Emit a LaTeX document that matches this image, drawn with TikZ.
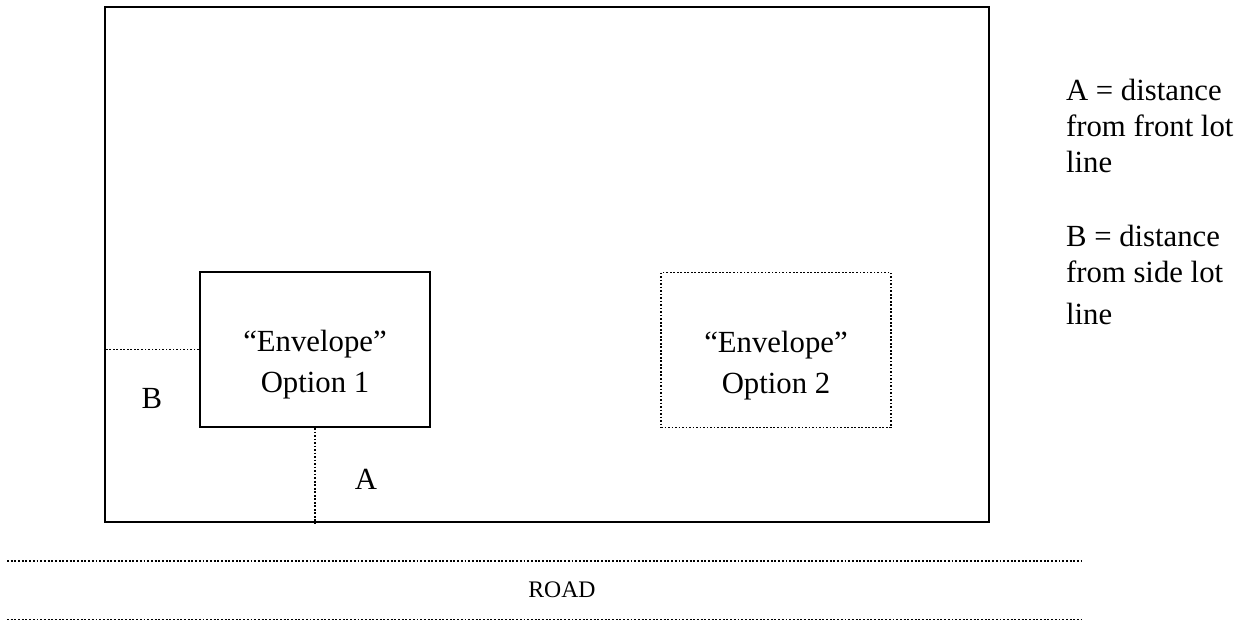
\documentclass[tikz,border=0pt]{standalone}
\usepackage{fontspec}
\setmainfont{Liberation Serif}
\usetikzlibrary{positioning}

\begin{document}
\begin{tikzpicture}[%
    x=0.02cm, y=-0.02cm,        % Work in pixels of the sketch, y going down
    line width=1.2pt,           % Heavy outlines
    font=\fontsize{17.5}{20}\selectfont,
    ]
% -------------------------------------------------
% A few styles
\tikzset{
  lotbox/.style={draw, rectangle, minimum width=17.68cm, minimum height=10.3cm},
  envbox/.style={draw, rectangle, minimum width=4.6cm, minimum height=3.1cm},
  envtext/.style={anchor=base, align=center, inner sep=0pt,
    font=\fontsize{17.5}{23.2}\selectfont},
  maybe/.style={densely dotted, line width=1pt},
  % Dimension lines and notes
  dim/.style={draw, densely dotted, line width=1pt},
  note/.style={anchor=base west, align=left, inner sep=0pt,
    font=\fontsize{17.5}{20.6}\selectfont},
  roadline/.style={draw, densely dotted, line width=1.1pt}
}
\useasboundingbox (0,0) rectangle (1254,621);
% -------------------------------------------------
% The lot and the two envelopes
\node [lotbox] (lot) at (547,264.5) {};
\node [envbox] (env1) at (315,349.5) {};
\node [envbox, maybe] (env2) at (776,350) {};
\node [envtext] (env1txt) at ([yshift=-24.6pt]env1.center) {“Envelope”\\Option 1};
\node [envtext] (env2txt) at ([yshift=-24.6pt]env2.center) {“Envelope”\\Option 2};

% Setback distances
\draw [dim] (env1.west) -- (env1.west -| lot.west);
\draw [dim] (env1.south) -- (env1.south |- lot.south);
\node (labB) at (152,398) {B};
\node (labA) at (366,479) {A};

% -------------------------------------------------
% The road
\coordinate (road1w) at (7,561);
\coordinate (road1e) at (1082,561);
\coordinate (road2w) at (7,619.5);
\coordinate (road2e) at (1082,619.5);
\draw [roadline] (road1w) -- (road1e);
\draw [roadline] (road2w) -- (road2e);
\node [font=\fontsize{13.5}{14}\selectfont] (road) at (562,590) {ROAD};

% Notes on the right (anchored at the last line)
\node [note] (noteA) at (1065,173) {A = distance\\from front lot\\line};
\node [note] (noteB) at (1065,325) {B = distance\\from side lot\\[3.4pt]line};
% -------------------------------------------------
\end{tikzpicture}
\end{document}
